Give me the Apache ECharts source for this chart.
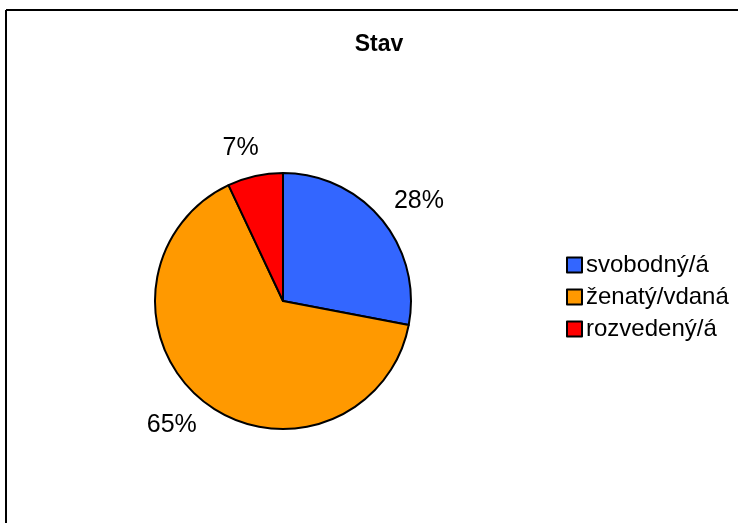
<!DOCTYPE html>
<html>
<head>
<meta charset="utf-8">
<title>Stav</title>
<script src="https://cdn.jsdelivr.net/npm/echarts@6/dist/echarts.min.js"></script>
<style>
  html, body { margin: 0; padding: 0; background: #fff; }
  #chart { width: 738px; height: 523px; }
</style>
</head>
<body>
<div id="chart"></div>
<script>
// data
const categories = ['svobodný/á', 'ženatý/vdaná', 'rozvedený/á']
const shares = [28, 65, 7]
const colors = ['#3366FF', '#FF9900', '#FF0000']

const font = '"Liberation Sans", Arial, sans-serif'
const chart = echarts.init(document.getElementById('chart'))

chart.setOption({
  animation: false,
  title: {
    text: 'Stav',
    left: 374,
    top: 28,
    textAlign: 'center',
    textStyle: { fontFamily: font, fontSize: 23, fontWeight: 'bold', color: '#000' }
  },
  legend: {
    orient: 'vertical',
    left: 566,
    top: 253,
    padding: 0,
    itemWidth: 15,
    itemHeight: 15,
    itemGap: 8,
    icon: 'rect',
    data: categories,
    itemStyle: { borderColor: '#000', borderWidth: 2 },
    textStyle: { fontFamily: font, fontSize: 24, color: '#000', padding: [0, 0, 0, -1] }
  },
  // frame: only top and left edges are visible
  graphic: [
    { type: 'line', shape: { x1: 6, y1: 10, x2: 738, y2: 10 }, style: { stroke: '#000', lineWidth: 2 }, silent: true },
    { type: 'line', shape: { x1: 6, y1: 10, x2: 6, y2: 523 }, style: { stroke: '#000', lineWidth: 2 }, silent: true }
  ],
  series: [
    {
      type: 'pie',
      center: [283, 301],
      radius: 128,
      startAngle: 90,
      clockwise: true,
      silent: true,
      avoidLabelOverlap: false,
      itemStyle: { borderColor: '#000', borderWidth: 2 },
      label: {
        show: true,
        position: 'outside',
        formatter: '{d}%',
        fontFamily: font,
        fontSize: 25,
        color: '#000',
        distanceToLabelLine: -10
      },
      labelLine: { show: false, length: 29, length2: 0 },
      data: categories.map((name, i) => ({
        name: name,
        value: shares[i],
        itemStyle: { color: colors[i] }
      }))
    }
  ]
})
</script>
</body>
</html>
